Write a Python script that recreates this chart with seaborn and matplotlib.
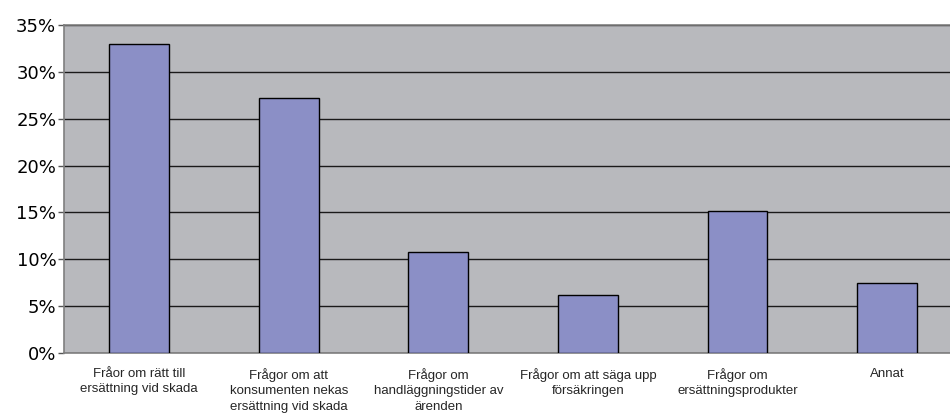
import numpy as np
import pandas as pd
import matplotlib
matplotlib.use("Agg")
import matplotlib.pyplot as plt
import seaborn as sns

categories = [
    "Fråor om rätt till\nersättning vid skada",
    "Frågor om att\nkonsumenten nekas\nersättning vid skada",
    "Frågor om\nhandläggningstider av\närenden",
    "Frågor om att säga upp\nförsäkringen",
    "Frågor om\nersättningsprodukter",
    "Annat",
]
values = [33.0, 27.2, 10.75, 6.2, 15.1, 7.5]
yticks = [0, 5, 10, 15, 20, 25, 30, 35]
ytick_labels = [f"{v}%" for v in yticks]

df = pd.DataFrame({"cat": categories, "val": values})

sns.set_style("white")
plt.rcParams["font.family"] = ["DejaVu Sans"]

PX = 72 / 100  # points per pixel

fig = plt.figure(figsize=(9.5, 4.15), dpi=100)
ax = fig.add_axes([64.3 / 950, 1 - 352.7 / 415, (962 - 64.3) / 950, (352.7 - 25.3) / 415])
ax.set_facecolor("#b8b9bd")

sns.barplot(data=df, x="cat", y="val", color="#8b8fc6", width=0.4,
            edgecolor="black", linewidth=1.0, saturation=1, ax=ax, zorder=3)

ax.set_ylim(0, 35)
ax.set_xlim(-0.5, len(categories) - 0.5)
ax.set_yticks(yticks)
ax.set_yticklabels(ytick_labels, fontsize=13, color="black")
ax.yaxis.grid(True, color="#1a1a1a", linewidth=1.0, zorder=1)
ax.set_axisbelow(True)

ax.set_xticks(range(len(categories)))
ax.set_xticklabels(categories, fontsize=9.5, family=["Liberation Sans", "DejaVu Sans"],
                   linespacing=1.42, va="top")
ax.set_xticks(np.arange(-0.5, len(categories), 1), minor=True)
ax.tick_params(axis="x", which="major", length=0, pad=15 * PX)
ax.tick_params(axis="x", which="minor", length=5 * PX, width=1, color="#555555", direction="out")
ax.tick_params(axis="y", which="major", length=6 * PX, width=1, color="#555555",
               direction="out", pad=2 * PX, left=True)

ax.set_xlabel("")
ax.set_ylabel("")

for s in ["left", "bottom", "top"]:
    ax.spines[s].set_visible(True)
    ax.spines[s].set_color("#7f7f7f")
    ax.spines[s].set_linewidth(1.2)
ax.spines["right"].set_visible(False)

fig.savefig("out.png", dpi=100)
